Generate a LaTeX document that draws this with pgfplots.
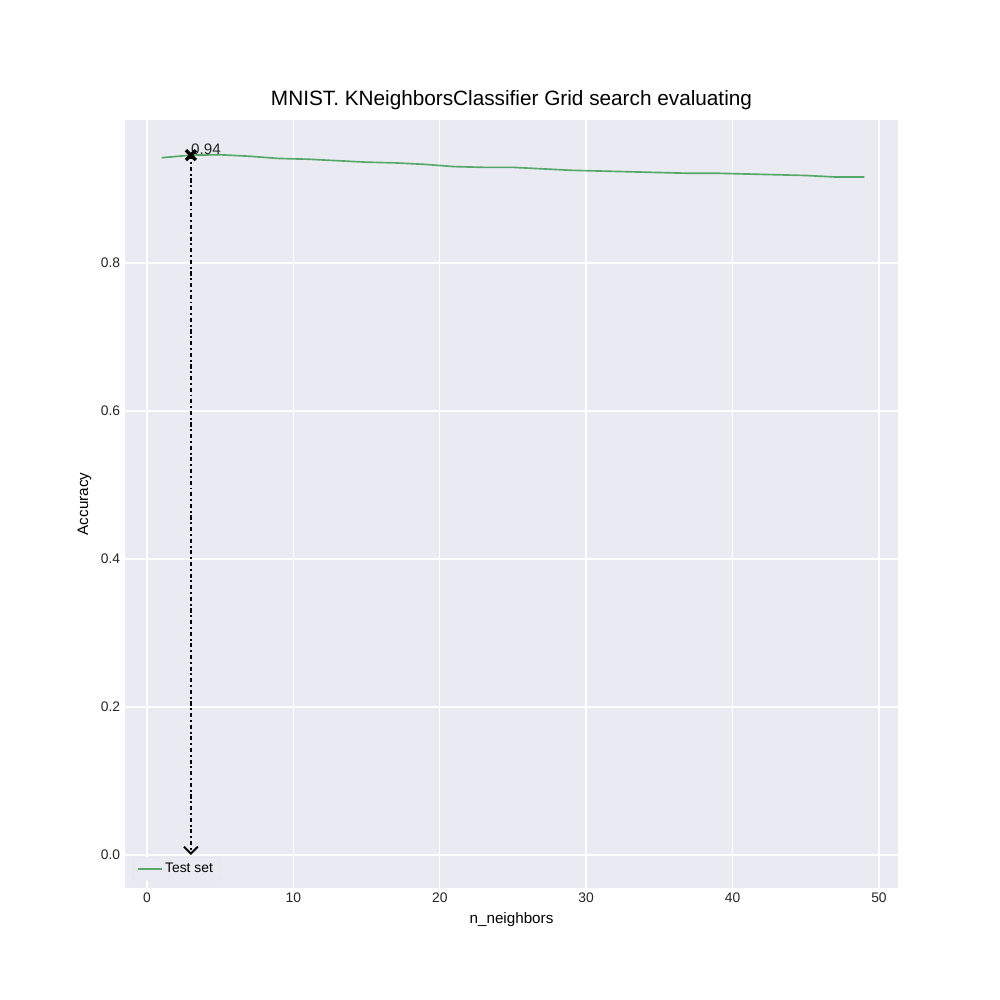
\documentclass[border=0pt]{standalone}
\usepackage{pgfplots}
\pgfplotsset{compat=1.18}
\usetikzlibrary{arrows.meta}
\usepackage{fontspec}
\setmainfont{Liberation Sans}
\definecolor{bg}{HTML}{EAEAF2}
\definecolor{sgreen}{HTML}{55A868}
\begin{document}
\begin{tikzpicture}
\useasboundingbox (0,0) rectangle (10in,10in);
\begin{axis}[at={(1.25in,1.12in)},anchor=south west,
 scale only axis, width=7.73in, height=7.68in,
 xmin=-1.5, xmax=51.3, ymin=-0.0446, ymax=0.993,
 axis background/.style={fill=bg}, axis line style={draw=none},
 tick style={draw=none}, grid=major, grid style={white, line width=1pt},
 xtick={0,10,...,50}, ytick={0,0.2,0.4,0.6,0.8},
 yticklabel style={/pgf/number format/.cd,fixed,fixed zerofill,precision=1},
 /pgf/number format/assume math mode=true,
 ticklabel style={font=\fontsize{10}{12}\selectfont, text=black!85},
 xlabel={n\_neighbors}, ylabel={Accuracy},
 label style={font=\fontsize{11}{13}\selectfont},
 title={MNIST. KNeighborsClassifier Grid search evaluating},
 title style={font=\fontsize{15}{18}\selectfont, yshift=-2pt},
 legend style={fill=bg, draw=white!80!gray, font=\fontsize{10}{12}\selectfont, rounded corners=2pt, at={(0.01,0.01)}, anchor=south west},
 legend cell align=left,
]
\addplot[sgreen, line width=1.2pt] coordinates {
(1,0.942)(3,0.9455)(5,0.946)(7,0.944)(9,0.941)(11,0.940)(13,0.938)(15,0.936)(17,0.935)(19,0.933)(21,0.930)(23,0.929)(25,0.929)(27,0.927)(29,0.925)(31,0.924)(33,0.923)(35,0.922)(37,0.921)(39,0.921)(41,0.920)(43,0.919)(45,0.918)(47,0.916)(49,0.916)};
\addlegendentry{Test set}
\addplot[black, line width=1.4pt, dash dot, -{Straight Barb[length=5pt,width=10pt]}, forget plot] coordinates {(3,0.9455)(3,0)};
\addplot[black, only marks, mark=x, mark size=5pt, line width=2.5pt, forget plot] coordinates {(3,0.9455)};
\node[anchor=south west, inner sep=0pt, font=\fontsize{11}{13}\selectfont, text=black!85] at (axis cs:3,0.9455) {0.94};
\end{axis}
\end{tikzpicture}
\end{document}
